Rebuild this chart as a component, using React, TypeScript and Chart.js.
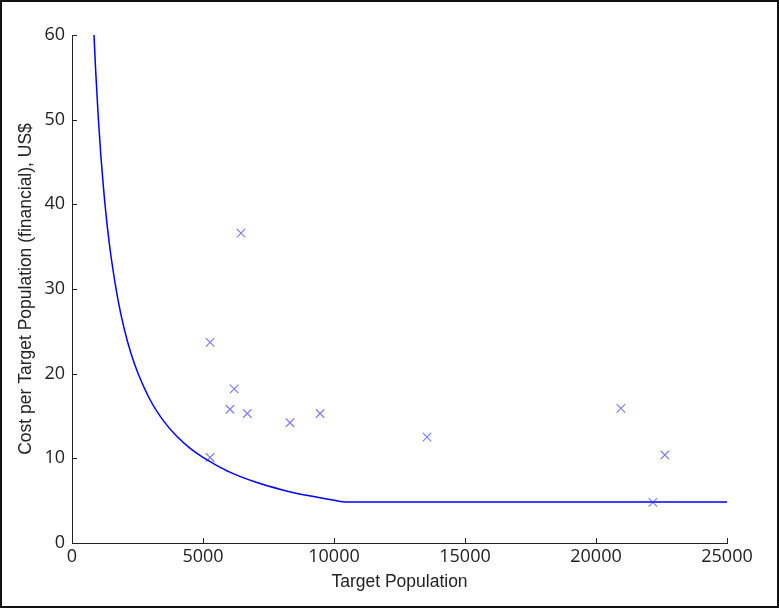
import React, { useEffect, useRef } from "react";
import { Chart, registerables } from "chart.js";

Chart.register(...registerables);

// Observed projects (scatter)
const projectPopulation = [6450, 5270, 6190, 6030, 6690, 8320, 9470, 13550, 5270, 20950, 22630, 22170];
const projectCost = [36.6, 23.7, 18.2, 15.8, 15.3, 14.2, 15.3, 12.5, 10.1, 15.9, 10.4, 4.8];

// Cost curve
const curvePopulation = [840, 900, 1000, 1100, 1200, 1350, 1500, 1750, 2000, 2250, 2500, 3000, 3500, 4000, 4500, 5000, 5500, 6000, 7000, 8000, 9000, 10000, 10450, 25000];
const curveCost = [60, 56, 50.4, 45.8, 42, 37.3, 33.6, 28.8, 25.2, 22.4, 20.2, 16.8, 14.4, 12.6, 11.2, 10.1, 9.2, 8.4, 7.2, 6.3, 5.6, 5.05, 4.83, 4.83];

const xTicks = [0, 5000, 10000, 15000, 20000, 25000];
const yTicks = [0, 10, 20, 30, 40, 50, 60];

const inwardTicks = {
  id: "inwardTicks",
  afterDraw(chart: any) {
    const { ctx, chartArea } = chart;
    const xs = chart.scales.x;
    const ys = chart.scales.y;
    ctx.save();
    ctx.strokeStyle = "#222";
    ctx.lineWidth = 1;
    ctx.beginPath();
    xs.ticks.forEach((t: any) => {
      const px = Math.round(xs.getPixelForValue(t.value)) + 0.5;
      ctx.moveTo(px, chartArea.bottom);
      ctx.lineTo(px, chartArea.bottom - 5);
    });
    ys.ticks.forEach((t: any) => {
      const py = Math.round(ys.getPixelForValue(t.value)) + 0.5;
      ctx.moveTo(chartArea.left, py);
      ctx.lineTo(chartArea.left + 5, py);
    });
    ctx.stroke();
    ctx.restore();
  },
};

export default function App() {
  const ref = useRef<HTMLCanvasElement | null>(null);

  useEffect(() => {
    document.body.style.margin = "0";
    if (!ref.current) return;
    const chart = new Chart(ref.current, {
      type: "scatter",
      data: {
        datasets: [
          {
            label: "curve",
            data: curvePopulation.map((x, i) => ({ x, y: curveCost[i] })),
            showLine: true,
            borderColor: "#0000ff",
            borderWidth: 1.5,
            pointRadius: 0,
            cubicInterpolationMode: "monotone",
            order: 2,
          },
          {
            label: "projects",
            data: projectPopulation.map((x, i) => ({ x, y: projectCost[i] })),
            showLine: false,
            pointStyle: "crossRot",
            pointRadius: 6,
            borderWidth: 1.2,
            borderColor: "rgba(40,40,235,0.6)",
            backgroundColor: "rgba(40,40,235,0.6)",
            order: 1,
          },
        ],
      },
      options: {
        responsive: false,
        animation: false,
        layout: { padding: { left: 0, right: 50, top: 33, bottom: 0 } },
        plugins: { legend: { display: false }, tooltip: { enabled: false } },
        scales: {
          x: {
            type: "linear",
            min: 0,
            max: 25000,
            afterBuildTicks: (s: any) => {
              s.ticks = xTicks.map((v) => ({ value: v }));
            },
            afterFit: (s: any) => {
              s.height = 63;
            },
            grid: { display: true, drawOnChartArea: false, drawTicks: false },
            border: { display: true, color: "#222", width: 1 },
            ticks: {
              padding: 3,
              color: "#222",
              font: { family: "'Open Sans'", size: 18 },
              maxRotation: 0,
              callback: (v: any) => String(v),
            },
            title: {
              display: true,
              text: "Target Population",
              color: "#222",
              font: { family: "'Liberation Sans'", size: 17.5 },
              padding: { top: 0, bottom: 13 },
            },
          },
          y: {
            type: "linear",
            min: 0,
            max: 60,
            afterBuildTicks: (s: any) => {
              s.ticks = yTicks.map((v) => ({ value: v }));
            },
            afterFit: (s: any) => {
              s.width = 70;
            },
            grid: { display: true, drawOnChartArea: false, drawTicks: false },
            border: { display: true, color: "#222", width: 1 },
            ticks: {
              padding: 7,
              color: "#222",
              font: { family: "'Open Sans'", size: 18 },
              callback: (v: any) => String(v),
            },
            title: {
              display: true,
              text: "Cost per Target Population (financial), US$",
              color: "#222",
              font: { family: "'Liberation Sans'", size: 17.5 },
              padding: { top: 14, bottom: 0 },
            },
          },
        },
      },
      plugins: [inwardTicks],
    });
    return () => chart.destroy();
  }, []);

  return (
    <div
      style={{
        width: 779,
        height: 608,
        boxSizing: "border-box",
        border: "2px solid #111",
        background: "#fff",
        position: "relative",
      }}
    >
      <canvas ref={ref} width={775} height={604} style={{ display: "block" }} />
    </div>
  );
}
